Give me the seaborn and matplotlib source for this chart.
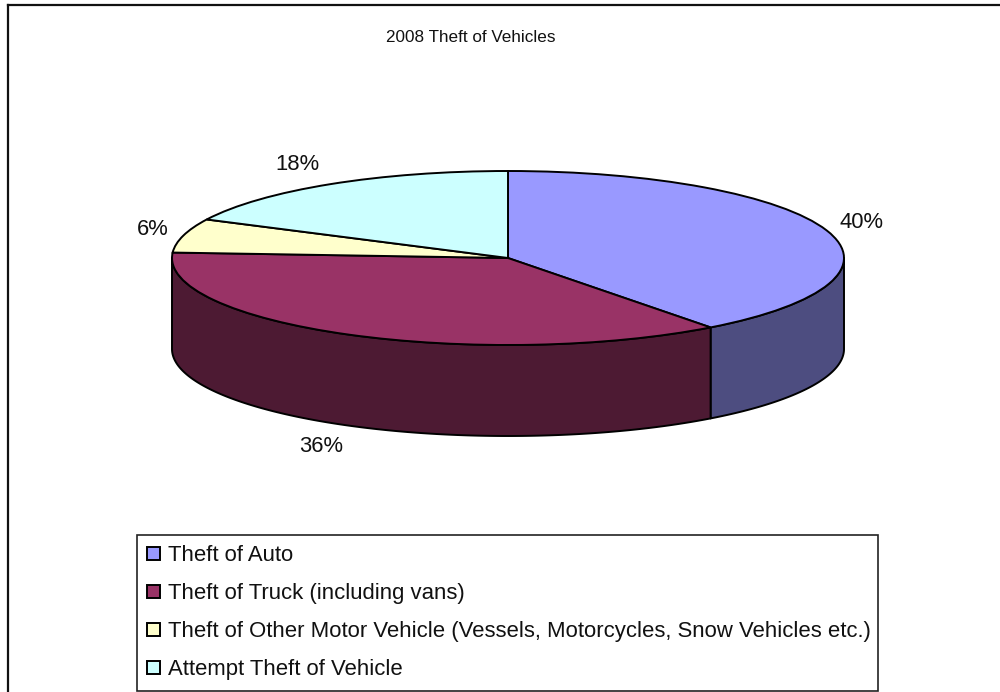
import numpy as np
import matplotlib
matplotlib.use("Agg")
import matplotlib.pyplot as plt
import seaborn as sns

categories = ["Theft of Auto", "Theft of Truck (including vans)",
              "Theft of Other Motor Vehicle (Vessels, Motorcycles, Snow Vehicles etc.)",
              "Attempt Theft of Vehicle"]
values = [39.7, 36.3, 6.3, 17.7]
pct_labels = ["40%", "36%", "6%", "18%"]
top_colors = ["#9999FF", "#993366", "#FFFFCC", "#CCFFFF"]
side_colors = ["#4D4D80", "#4D1A33", "#808066", "#668080"]

sns.set_theme(style="white")
plt.rcParams["font.family"] = ["Liberation Sans", "DejaVu Sans"]

W, H = 1000, 692
fig = plt.figure(figsize=(W / 100, H / 100), dpi=100, facecolor="white")
# pixel geometry of the chart
cx, cy, rx, ry, depth = 508, 258, 336, 87, 91
L, T = 8, 5
ax = fig.add_axes([L / W, 0, (W - L) / W, (H - T) / H])
wedges, _ = ax.pie(values, colors=top_colors, startangle=90, counterclock=False, frame=True,
                   wedgeprops=dict(edgecolor="black", linewidth=1.4, zorder=5))
ax.set_aspect("auto")
ax.set_xlim((L - cx) / rx, (W - cx) / rx)
ax.set_ylim((cy - H) / ry, (cy - T) / ry)
ax.set_xticks([]); ax.set_yticks([])
for s in ["right", "bottom"]:
    ax.spines[s].set_visible(False)
for s in ["left", "top"]:
    ax.spines[s].set_color("#111111"); ax.spines[s].set_linewidth(1.6)

# extruded rim of the cylinder, from the same values
d = depth / ry
edges = np.cumsum([0] + values) / sum(values) * 2 * np.pi
for i, col in enumerate(side_colors):
    a0, a1 = max(edges[i], np.pi / 2), min(edges[i + 1], 3 * np.pi / 2)
    if a1 <= a0:
        continue
    t = np.linspace(a0, a1, 200)
    x, y = np.sin(t), np.cos(t)
    ax.fill(np.r_[x, x[::-1]], np.r_[y, (y - d)[::-1]], facecolor=col, edgecolor="black",
            linewidth=1.4, zorder=2, joinstyle="round")

# labels and title
def ftext(px, py, s, size):
    fig.text(px / W, 1 - py / H, s, ha="center", va="center", fontsize=size, color="#111111")

for (px, py), s in zip([(861, 223), (321, 447), (153, 229.5), (297, 165)], pct_labels):
    ftext(px, py, s, 15.8)
ftext(470.5, 37.5, "2008 Theft of Vehicles", 12.3)

leg = ax.legend(wedges, categories, loc="upper left", bbox_transform=fig.transFigure,
                bbox_to_anchor=(137 / W, 1 - 690 / H, 741 / W, 155 / H), mode="expand",
                fontsize=15.9, frameon=True, fancybox=False, framealpha=1, edgecolor="#222222",
                labelspacing=0.77, borderpad=0.47, handlelength=0.58, handleheight=0.58,
                handletextpad=0.36, borderaxespad=0, labelcolor="#111111")
leg.get_frame().set_linewidth(1.2)
for h in leg.get_patches():
    h.set_linewidth(1.4)
leg.set_zorder(10)

fig.savefig("out.png", dpi=100)
